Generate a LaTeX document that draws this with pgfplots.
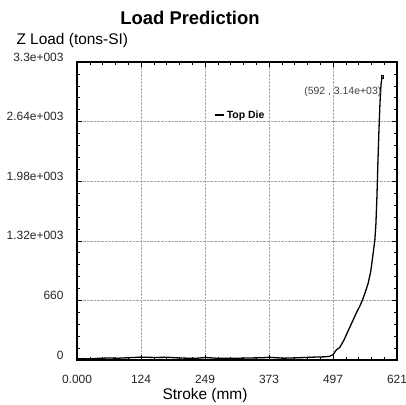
\documentclass[border=0pt]{standalone}
\usepackage{pgfplots}
\pgfplotsset{compat=1.18}
\usetikzlibrary{calc}
\usepackage{fontspec}
\setmainfont{Liberation Sans}
\begin{document}
\begin{tikzpicture}
\begin{axis}[
    scale only axis,
    width=320bp, height=298bp,
    xmin=0, xmax=621, ymin=0, ymax=3300,
    xtick={0,124.2,248.4,372.6,496.8,621},
    xticklabels={0.000,124,249,373,497,621},
    ytick={0,660,1320,1980,2640,3300},
    yticklabels={0,660,1.32e+003,1.98e+003,2.64e+003,3.3e+003},
    minor x tick num=4, minor y tick num=4,
    tick align=inside,
    major tick length=5bp, minor tick length=3bp,
    tick style={black, line width=0.6pt},
    axis line style={line width=1.4pt},
    grid=major,
    major grid style={densely dotted, gray!70, line width=0.5pt},
    /pgf/number format/assume math mode=true,
    ticklabel style={font=\fontsize{12}{14}\selectfont, text=black!85},
    xticklabel style={yshift=-12bp},
    yticklabel style={xshift=-10bp, yshift=5bp},
    xlabel={Stroke (mm)},
    xlabel style={font=\fontsize{15.5}{17}\selectfont, at={(axis description cs:0.4,0)},
        anchor=center, yshift=-36bp},
    legend style={draw=none, fill=none, at={(0.42,0.822)}, anchor=west,
        font=\bfseries\fontsize{10.5}{12}\selectfont},
    legend cell align=left,
    legend image code/.code={\draw[line width=1.2pt] (0bp,0bp) -- (9bp,0bp);},
]
\addplot[black, line width=1.3pt] coordinates {
(0,15) (20,12) (40,18) (60,22) (80,20) (100,25) (124,32) (150,28)
(175,30) (200,22) (230,18) (249,28) (270,20) (300,18) (330,22)
(360,25) (373,30) (400,20) (430,25) (460,32) (480,35) (490,40)
(497,60) (503,110) (510,140) (518,220) (526,320) (534,420)
(542,520) (550,610) (555,680) (560,760) (565,850) (570,980)
(574,1150) (578,1330) (580,1500) (582,1800) (584,2200) (586,2550)
(588,2850) (590,3050) (592,3140)
};
\addlegendentry{Top Die}
\addplot[black, only marks, mark=square, mark size=1.3pt, forget plot] coordinates {(592,3140)};
\node[anchor=east, inner sep=0pt, font=\fontsize{10.5}{12}\selectfont, text=black!75]
    at (axis cs:591,2970) {(592 , 3.14e+03)};
\end{axis}
\node[font=\bfseries\fontsize{18.5}{21}\selectfont] at ($(current axis.north west)+(113bp,44bp)$) {Load Prediction};
\node[anchor=west, font=\fontsize{15.5}{17}\selectfont] at ($(current axis.north west)+(-64bp,21bp)$) {Z Load (tons-SI)};
\pgfresetboundingbox
\path ($(current axis.south west)+(-77bp,-45bp)$) rectangle ($(current axis.north east)+(9bp,62bp)$);
\end{tikzpicture}
\end{document}
